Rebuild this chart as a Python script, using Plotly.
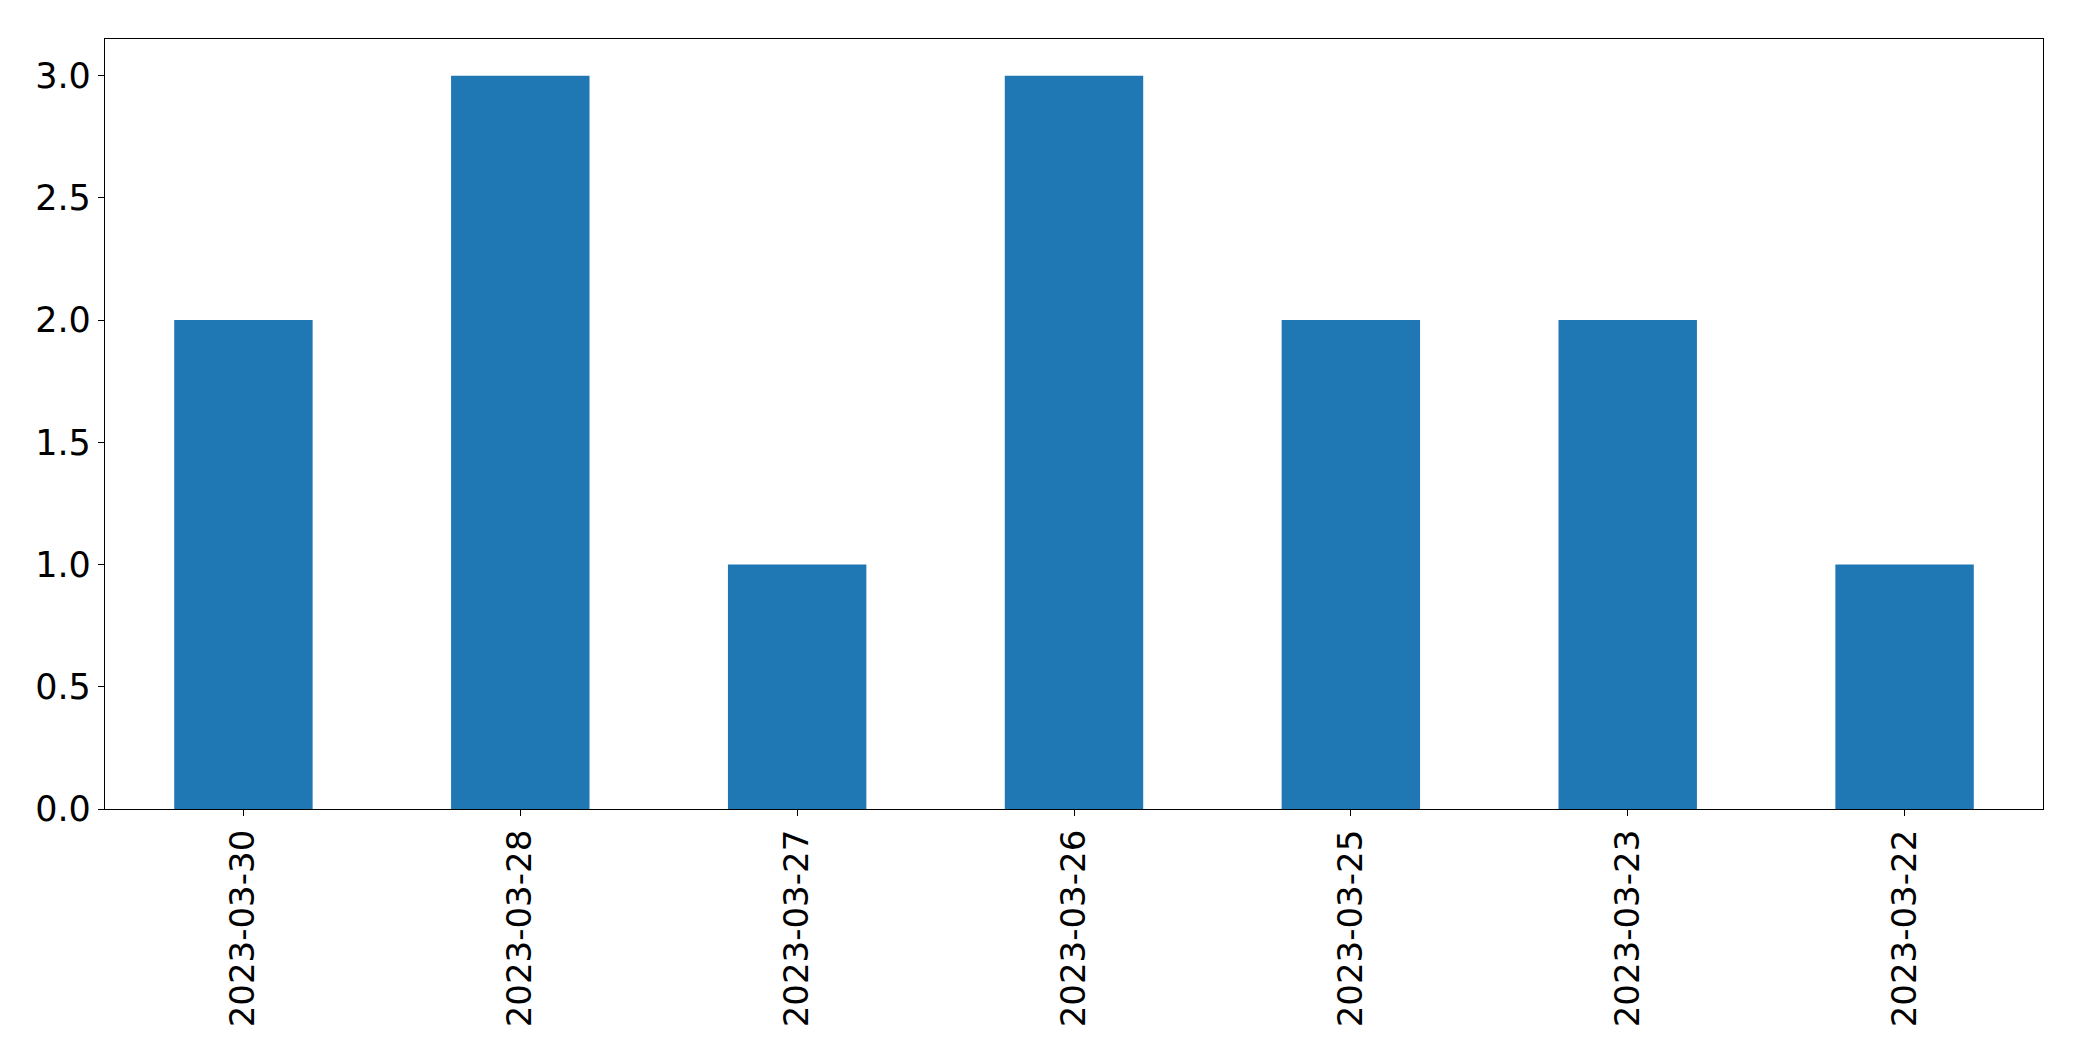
import plotly.graph_objects as go

dates = ["2023-03-30", "2023-03-28", "2023-03-27", "2023-03-26", "2023-03-25", "2023-03-23", "2023-03-22"]
counts = [2, 3, 1, 3, 2, 2, 1]
y_ticks = [0.0, 0.5, 1.0, 1.5, 2.0, 2.5, 3.0]

fig = go.Figure(go.Bar(x=dates, y=counts, marker=dict(color="#1f77b4", line=dict(width=0))))

# page body has an 8px default margin; compensate so the axes land where the reference has them
fig.update_layout(
    width=2066, height=1045,
    margin=dict(l=97, r=31, t=31, b=244, autoexpand=False),
    paper_bgcolor="white", plot_bgcolor="white",
    bargap=0.5,
    showlegend=False,
    font=dict(family="DejaVu Sans", size=34, color="black"),
)
fig.update_xaxes(
    type="category", range=[-0.5, 6.5], tickangle=-90,
    showline=True, linecolor="black", linewidth=1.3, mirror=True,
    ticks="outside", ticklen=6, tickwidth=1.3, tickcolor="black",
    showgrid=False, zeroline=False,
)
fig.update_yaxes(
    range=[0, 3.15], tickvals=y_ticks, ticktext=[f"{v:.1f}" for v in y_ticks],
    tickfont=dict(size=35),
    showline=True, linecolor="black", linewidth=1.3, mirror=True,
    ticks="outside", ticklen=6, tickwidth=1.3, tickcolor="black",
    showgrid=False, zeroline=False,
)

fig.write_html("out.html")
